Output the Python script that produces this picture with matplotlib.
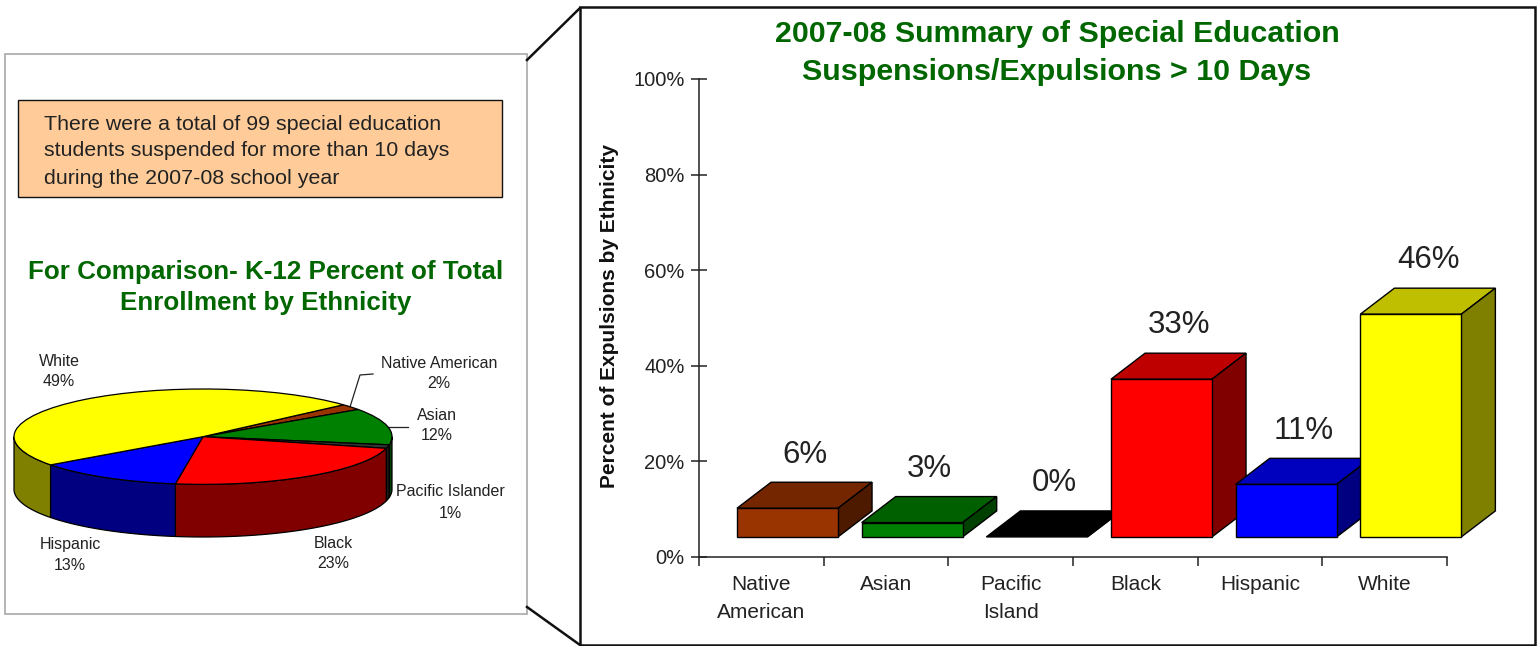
import numpy as np
import matplotlib

matplotlib.use('Agg')
import matplotlib.pyplot as plt
from matplotlib.patches import Rectangle, Polygon

W, H = 1538, 646

# bar chart data
bar_categories = ['Native\nAmerican', 'Asian', 'Pacific\nIsland', 'Black', 'Hispanic', 'White']
bar_values = [6, 3, 0, 33, 11, 46.6]
bar_labels = ['6%', '3%', '0%', '33%', '11%', '46%']
y_ticks = [0, 20, 40, 60, 80, 100]

# pie chart data
pie_names = ['Native American', 'Asian', 'Pacific Islander', 'Black', 'Hispanic', 'White']
pie_shares = [2.0, 12.4, 1.2, 23.4, 12.6, 48.4]
pie_labels = ['2%', '12%', '1%', '23%', '13%', '49%']

# colours: front, top, side
BAR_COLORS = [('#993300', '#732600', '#4d1a00'),
              ('#008000', '#006000', '#004000'),
              ('#000000', '#000000', '#000000'),
              ('#ff0000', '#bf0000', '#800000'),
              ('#0000ff', '#0000bf', '#000080'),
              ('#ffff00', '#bfbf00', '#808000')]
PIE_COLORS = ['#993300', '#008000', '#333333', '#ff0000', '#0000ff', '#ffff00']
RIM_COLORS = ['#4d1a00', '#004000', '#1a1a1a', '#800000', '#000080', '#808000']
GREEN = '#006600'
TEXT = '#222222'

plt.rcParams['font.family'] = ['Liberation Sans', 'DejaVu Sans']


def px_axes(fig, left, top, right, bottom, **kw):
    # axes placed by picture pixels
    return fig.add_axes([left / W, 1 - bottom / H, (right - left) / W, (bottom - top) / H], **kw)


def draw_panels(ax):
    ax.add_patch(Rectangle((5, 54), 522, 560, fc='white', ec='#a8a8a8', lw=1.2))
    ax.add_patch(Rectangle((580, 7), 955, 638, fc='white', ec='#111111', lw=1.8))
    ax.plot([527, 580], [60, 8], color='#111111', lw=1.8)
    ax.plot([527, 580], [607, 645], color='#111111', lw=1.8)

    ax.add_patch(Rectangle((18, 100), 484, 97, fc='#ffcc99', ec='#111111', lw=1.0))
    lines = ['There were a total of 99 special education',
             'students suspended for more than 10 days',
             'during the 2007-08 school year']
    for y, line in zip([124, 151, 178], lines):
        ax.text(44, y, line, fontsize=15.4, color=TEXT, va='center', ha='left')

    ax.text(266, 272, 'For Comparison- K-12 Percent of Total', fontsize=18.7, fontweight='bold',
            color=GREEN, ha='center', va='center')
    ax.text(266, 303, 'Enrollment by Ethnicity', fontsize=18.7, fontweight='bold',
            color=GREEN, ha='center', va='center')
    ax.text(1057, 34, '2007-08 Summary of Special Education', fontsize=21.9, fontweight='bold',
            color=GREEN, ha='center', va='center')
    ax.text(1057, 72, 'Suspensions/Expulsions > 10 Days', fontsize=21.9, fontweight='bold',
            color=GREEN, ha='center', va='center')


def draw_pie_labels(ax):
    spots = [(439, 363), (437, 415), (450, 492), (333, 543), (70, 545), (59, 361)]
    for (x, y), name, pct in zip(spots, pie_names, pie_labels):
        ax.text(x, y, name, fontsize=11.5, color=TEXT, ha='center', va='center')
        ax.text(x, y + 21, pct, fontsize=11.5, color=TEXT, ha='center', va='center')
    ax.plot([350, 360, 373], [407, 375, 374], color='#222222', lw=0.9)
    ax.plot([383, 408], [427, 427], color='#222222', lw=0.9)


def draw_pie(ax, depth):
    start = 42.0
    ends = start - np.cumsum(pie_shares) * 3.6
    begins = np.r_[start, ends[:-1]]
    for a0, a1, c in zip(begins, ends, RIM_COLORS):
        # only the front half of the rim can be seen
        lo, hi = max(a1, -180.0), min(a0, 0.0)
        if lo < hi:
            t = np.radians(np.linspace(lo, hi, 60))
            xs = np.r_[np.cos(t), np.cos(t)[::-1]]
            ys = np.r_[np.sin(t), (np.sin(t) - depth)[::-1]]
            ax.add_patch(Polygon(np.c_[xs, ys], closed=True, fc=c, ec='black', lw=0.9, zorder=1))
    ax.pie(pie_shares, colors=PIE_COLORS, startangle=start, counterclock=False, radius=1,
           wedgeprops={'edgecolor': 'black', 'linewidth': 0.9, 'zorder': 2})
    ax.set_aspect('auto')
    ax.set_xlim(-1, 1)
    ax.set_ylim(-1 - depth, 1)
    for p in ax.patches:
        p.set_clip_on(False)
    ax.axis('off')


def draw_bars(ax):
    base = 4.2  # front of the bars sits above the axis
    left, width = 0.305, 0.81
    dx, dy = 0.273, 5.44
    for i, (v, (front, top, side)) in enumerate(zip(bar_values, BAR_COLORS)):
        x0, x1 = i + left, i + left + width
        y0, y1 = base, base + v
        ax.add_patch(Polygon([(x0, y1), (x1, y1), (x1 + dx, y1 + dy), (x0 + dx, y1 + dy)],
                             fc=top, ec='black', lw=1.0, zorder=3 + i, clip_on=False))
        ax.add_patch(Polygon([(x1, y0), (x1 + dx, y0 + dy), (x1 + dx, y1 + dy), (x1, y1)],
                             fc=side, ec='black', lw=1.0, zorder=3 + i, clip_on=False))
        if v > 0:
            ax.add_patch(Rectangle((x0, y0), width, v, fc=front, ec='black', lw=1.0,
                                   zorder=3 + i, clip_on=False))
        ax.text(x0 + 0.545, y1 + dy + 5.8, bar_labels[i], fontsize=22.5, color=TEXT,
                ha='center', va='center', zorder=20)

    ax.set_xlim(0, len(bar_categories))
    ax.set_ylim(0, 100)
    ax.patch.set_alpha(0)
    for s in ['top', 'right']:
        ax.spines[s].set_visible(False)
    for s in ['left', 'bottom']:
        ax.spines[s].set_color('#222222')
        ax.spines[s].set_linewidth(1.1)

    ax.set_yticks(y_ticks)
    ax.set_yticklabels([f'{t}%' for t in y_ticks], fontsize=14.5, color=TEXT)
    ax.tick_params(axis='y', direction='inout', length=11, width=1.1, color='#222222', pad=5)
    ax.set_xticks(range(len(bar_categories) + 1))
    ax.set_xticklabels([])
    ax.tick_params(axis='x', direction='out', length=6.5, width=1.1, color='#222222')
    ax.set_xticks(np.arange(len(bar_categories)) + 0.5, minor=True)
    ax.set_xticklabels(bar_categories, minor=True, fontsize=15, color=TEXT, linespacing=1.6)
    ax.tick_params(axis='x', which='minor', length=0, pad=13)
    ax.set_ylabel('Percent of Expulsions by Ethnicity', fontsize=15, fontweight='bold',
                  color='#111111', labelpad=0)
    ax.yaxis.set_label_coords((619 - 699) / (1447 - 699), (557 - 316) / (557 - 79))


def main():
    fig = plt.figure(figsize=(W / 100, H / 100), dpi=100, facecolor='white')

    back = fig.add_axes([0, 0, 1, 1])
    back.set_xlim(0, W)
    back.set_ylim(H, 0)
    back.axis('off')
    draw_panels(back)
    draw_pie_labels(back)

    ax_pie = px_axes(fig, 14, 389, 392, 537)
    draw_pie(ax_pie, 53 / 48)

    ax_bar = px_axes(fig, 699, 79, 1447, 557)
    draw_bars(ax_bar)

    fig.savefig('out.png', dpi=100)


if __name__ == '__main__':
    main()
